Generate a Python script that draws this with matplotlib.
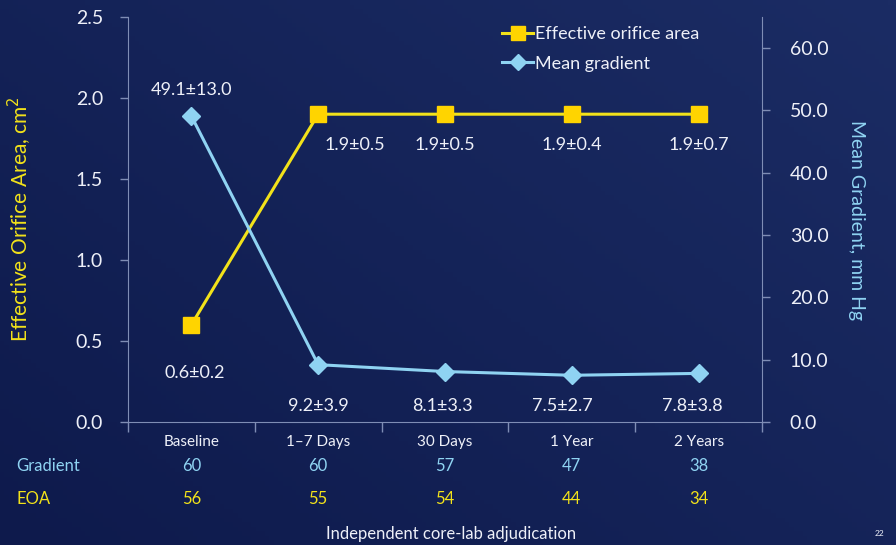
import matplotlib
matplotlib.use("Agg")
from matplotlib import pyplot as plt
import numpy as np

# data
categories = ["Baseline", "1\u20137 Days", "30 Days", "1 Year", "2 Years"]
eoa = [0.6, 1.9, 1.9, 1.9, 1.9]
eoa_labels = ["0.6\u00b10.2", "1.9\u00b10.5", "1.9\u00b10.5", "1.9\u00b10.4", "1.9\u00b10.7"]
gradient = [49.1, 9.2, 8.1, 7.5, 7.8]
gradient_labels = ["49.1\u00b113.0", "9.2\u00b13.9", "8.1\u00b13.3", "7.5\u00b12.7", "7.8\u00b13.8"]
n_gradient = [60, 60, 57, 47, 38]
n_eoa = [56, 55, 54, 44, 34]

BG = "#13215a"
YELLOW = "#f2e21a"
YMARK = "#ffd400"
BLUE = "#8fd3f2"
TXT = "#eef0f8"
AXC = "#7f8db5"

plt.rcParams['font.family'] = ['Lato', 'DejaVu Sans']

fig = plt.figure(figsize=(8.96, 5.45), dpi=100)
fig.patch.set_facecolor(BG)

# soft background gradient
bgax = fig.add_axes([0, 0, 1, 1], zorder=-10)
gx, gy = np.meshgrid(np.linspace(0, 1, 200), np.linspace(0, 1, 120))
shade = 0.55 * gx + 0.45 * (1 - gy)
bgax.imshow(shade, cmap=matplotlib.colors.LinearSegmentedColormap.from_list(
    "bg", ["#0e1a4c", "#1b2c64"]), aspect="auto", extent=[0, 1, 0, 1])
bgax.axis("off")

ax = fig.add_axes([128 / 896, 1 - 422 / 545, (762 - 128) / 896, (422 - 17) / 545])
ax.patch.set_alpha(0)
x = np.arange(len(categories)) + 0.5

ax.plot(x, eoa, color=YELLOW, lw=2.2, marker="s", ms=11, mfc=YMARK, mec=YMARK,
        label="Effective orifice area", zorder=3)
ax.set_xlim(0, 5)
ax.set_ylim(0, 2.5)
ax.set_yticks(np.arange(0, 2.51, 0.5))
ax.set_yticklabels([f"{v:.1f}" for v in np.arange(0, 2.51, 0.5)])
ax.set_xticks(np.arange(0, 6))
ax.set_xticklabels([])

ax2 = ax.twinx()
ax2.plot(x, gradient, color=BLUE, lw=2.2, marker="D", ms=9, mfc=BLUE, mec=BLUE,
         label="Mean gradient", zorder=3)
ax2.set_ylim(0, 65)
ax2.set_yticks(np.arange(0, 61, 10))
ax2.set_yticklabels([f"{v:.1f}" for v in np.arange(0, 61, 10)])

for a in (ax, ax2):
    for s in a.spines.values():
        s.set_visible(False)
    a.tick_params(colors=AXC, labelcolor=TXT, labelsize=14, length=6, width=1)
ax.spines["left"].set_visible(True)
ax.spines["bottom"].set_visible(True)
ax2.spines["right"].set_visible(True)
for s in (ax.spines["left"], ax.spines["bottom"], ax2.spines["right"]):
    s.set_color(AXC)
ax.tick_params(axis="y", pad=12)
ax2.tick_params(axis="y", pad=14)
ax.tick_params(axis="x", length=7, direction="out")

ax.set_ylabel("Effective Orifice Area, cm$^2$", color=YELLOW, fontsize=15, labelpad=30)
ax2.set_ylabel("Mean Gradient, mm Hg", color=BLUE, fontsize=14, rotation=-90, labelpad=26)

# value labels: EOA under its markers, gradient on a common row near the axis
eoa_dx = [3, 37, 0, 0, 0]
eoa_dy = [-48, -31, -31, -31, -31]
for xi, v, t, dx, dy in zip(x, eoa, eoa_labels, eoa_dx, eoa_dy):
    ax.annotate(t, (xi, v), xytext=(dx, dy), textcoords="offset pixels",
                ha="center", va="center", color=TXT, fontsize=13)
ax2.annotate(gradient_labels[0], (x[0], gradient[0]), xytext=(0, 26),
             textcoords="offset pixels", ha="center", va="center", color=TXT, fontsize=13)
grad_dx = [0, -3, -9, -6]
for xi, t, dx in zip(x[1:], gradient_labels[1:], grad_dx):
    ax2.annotate(t, (xi, 0), xytext=(dx, 16), textcoords="offset pixels",
                 ha="center", va="center", color=TXT, fontsize=13)

# category names and patient counts below the axis
xt = ax.get_xaxis_transform()
for xi, c, ng, ne in zip(x, categories, n_gradient, n_eoa):
    ax.text(xi, -0.05, c, transform=xt, ha="center", va="center", color=TXT, fontsize=11)
    ax.text(xi, -0.109, str(ng), transform=xt, ha="center", va="center",
            color=BLUE, fontsize=12)
    ax.text(xi, -0.19, str(ne), transform=xt, ha="center", va="center",
            color=YELLOW, fontsize=12)

fig.text(16 / 896, 1 - 466 / 545, "Gradient", color=BLUE, fontsize=12, va="center")
fig.text(16 / 896, 1 - 499 / 545, "EOA", color=YELLOW, fontsize=12, va="center")
fig.text(451 / 896, 1 - 534 / 545, "Independent core-lab adjudication", color=TXT,
         fontsize=12, ha="center", va="center")
fig.text(880 / 896, 1 - 534 / 545, "22", color=TXT, fontsize=6, ha="center", va="center")

h1, l1 = ax.get_legend_handles_labels()
h2, l2 = ax2.get_legend_handles_labels()
leg = ax2.legend(h1 + h2, l1 + l2, loc="upper left", bbox_to_anchor=(0.565, 1.018),
                 frameon=False, fontsize=13, labelcolor=TXT, handlelength=1.7,
                 handletextpad=0.1, labelspacing=0.75, markerscale=0.9)

fig.savefig("out.png", dpi=100, facecolor=fig.get_facecolor())
